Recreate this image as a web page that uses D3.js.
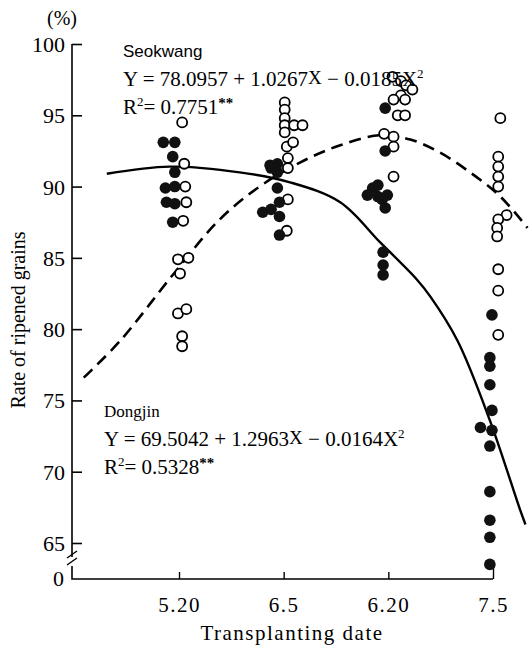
<!DOCTYPE html>
<html>
<head>
<meta charset="utf-8">
<script src="https://cdn.jsdelivr.net/npm/d3@7"></script>
<style>
	body { margin: 0; background: #fff; }
	svg text { font-family: "Liberation Serif", "DejaVu Serif", serif; fill: #000; }
</style>
</head>
<body>
<svg id="chart" width="529" height="647"></svg>
<script>
// transplanting dates, placed at index 0..3 on the x axis
const dateLabels = ["5.20", "6.5", "6.20", "7.5"];
const yTicks = [65, 70, 75, 80, 85, 90, 95, 100];

// Dongjin (filled dots): [date index, rate %]
const dongjin = [
	[-0.15, 93.1], [-0.04, 93.1], [-0.06, 92.1], [-0.04, 91.0], [-0.13, 89.9],
	[-0.04, 90.0], [-0.12, 88.9], [-0.04, 88.8], [-0.06, 87.5],
	[0.87, 91.5], [0.94, 91.6], [0.88, 91.3], [0.94, 91.0], [0.94, 89.9],
	[0.96, 88.9], [0.80, 88.2], [0.88, 88.4], [0.96, 87.9], [0.96, 86.6],
	[1.97, 95.5], [1.97, 92.5], [1.85, 89.9], [1.90, 90.1], [1.80, 89.4],
	[1.90, 89.3], [1.99, 89.4], [1.94, 89.1], [1.97, 88.5], [1.95, 85.4],
	[1.95, 84.5], [1.95, 83.8],
	[2.99, 81.0], [2.97, 78.0], [2.97, 77.4], [2.97, 76.1], [2.99, 74.3],
	[2.88, 73.1], [2.99, 72.9], [2.97, 71.8], [2.97, 68.6], [2.97, 66.6],
	[2.97, 65.4], [2.97, 63.5]
];

// Seokwang (open dots): [date index, rate %]
const seokwang = [
	[0.03, 94.5], [0.05, 91.6], [0.06, 90.0], [0.07, 88.9], [0.04, 87.6],
	[-0.01, 84.9], [0.09, 85.0], [0.01, 83.9], [-0.01, 81.1], [0.07, 81.4],
	[0.03, 79.5], [0.03, 78.8],
	[1.01, 95.9], [1.01, 95.4], [1.01, 94.8], [1.01, 94.3], [1.10, 94.3],
	[1.18, 94.3], [1.01, 93.8], [1.03, 92.8], [1.09, 93.1], [1.04, 92.0],
	[1.04, 91.3], [1.04, 89.1], [1.03, 86.9],
	[2.04, 97.7], [2.12, 97.4], [2.17, 97.1], [2.23, 96.8], [2.12, 96.4],
	[2.05, 96.1], [2.16, 96.1], [2.09, 95.0], [2.16, 95.0], [1.96, 93.7],
	[2.05, 93.5], [2.05, 92.8], [2.05, 90.7],
	[3.07, 94.8], [3.05, 92.1], [3.05, 91.4], [3.05, 90.7], [3.05, 90.0],
	[3.13, 88.0], [3.05, 87.7], [3.04, 87.1], [3.04, 86.5], [3.05, 84.2],
	[3.05, 82.7], [3.05, 79.6]
];

// fitted curves as drawn in the figure
const dongjinCurve = [
	[-0.69, 90.9], [-0.09, 91.4], [0.58, 91.0], [1.06, 90.3], [1.54, 88.9],
	[1.92, 86.1], [2.27, 83.5], [2.40, 82.3], [2.66, 79.2], [2.97, 73.6],
	[3.26, 67.3], [3.31, 66.3]
];
const seokwangCurve = [
	[-0.91, 76.6], [-0.56, 79.2], [-0.06, 83.8], [0.39, 87.7], [0.77, 90.0],
	[1.16, 91.7], [1.54, 92.9], [1.92, 93.6], [2.21, 93.3], [2.49, 92.4],
	[2.78, 91.0], [3.07, 89.3], [3.33, 87.1]
];

const svg = d3.select("#chart");

const axisX0 = 72, axisY0 = 579;

const x = d3.scaleLinear().domain([0, 3]).range([179, 493]);
const y = d3.scaleLinear().domain([65, 100]).range([543, 44]);

// y axis, with a break between 65 and 0
const yAxis = d3.axisLeft(y)
	.tickValues(yTicks)
	.tickSizeInner(-10)
	.tickSizeOuter(0)
	.tickPadding(7);

const gY = svg.append("g")
	.attr("transform", `translate(${axisX0},0)`)
	.call(yAxis);
gY.select(".domain").remove();
gY.selectAll(".tick line").attr("stroke", "#000").attr("stroke-width", 1.6);
gY.selectAll(".tick text").style("font-size", "22px").attr("dy", "0.34em");

const axisPath = d3.path();
axisPath.moveTo(axisX0, y(100));
axisPath.lineTo(axisX0, 557);
axisPath.moveTo(axisX0, 566);
axisPath.lineTo(axisX0, axisY0);
axisPath.lineTo(x(3), axisY0);
svg.append("path")
	.attr("d", axisPath.toString())
	.attr("fill", "none")
	.attr("stroke", "#000")
	.attr("stroke-width", 1.6);

// break marks
[0, 7].forEach(o => {
	svg.append("line")
		.attr("x1", axisX0 - 5).attr("y1", 558 + o)
		.attr("x2", axisX0 + 5).attr("y2", 551 + o)
		.attr("stroke", "#000").attr("stroke-width", 1.4);
});

svg.append("text")
	.attr("x", 64).attr("y", axisY0)
	.attr("dy", "0.34em")
	.attr("text-anchor", "end")
	.style("font-size", "22px")
	.text("0");

// x axis
const xAxis = d3.axisBottom(x)
	.tickValues([0, 1, 2, 3])
	.tickFormat(i => dateLabels[i])
	.tickSizeInner(-7)
	.tickSizeOuter(0)
	.tickPadding(18);

const gX = svg.append("g")
	.attr("transform", `translate(0,${axisY0})`)
	.call(xAxis);
gX.select(".domain").remove();
gX.selectAll(".tick line").attr("stroke", "#000").attr("stroke-width", 1.4);
gX.selectAll(".tick line").filter(i => i === 3).attr("y2", -12);
gX.selectAll(".tick text")
	.style("font-size", "21px")
	.style("letter-spacing", "1.5px")
	.attr("dy", "0.71em");

svg.append("text")
	.attr("x", 292).attr("y", 640)
	.attr("text-anchor", "middle")
	.style("font-size", "21px")
	.style("letter-spacing", "1.5px")
	.text("Transplanting date");

svg.append("text")
	.attr("transform", "translate(25,320) rotate(-90)")
	.attr("text-anchor", "middle")
	.style("font-size", "20px")
	.text("Rate of ripened grains");

svg.append("text")
	.attr("x", 47).attr("y", 25)
	.style("font-size", "20px")
	.text("(%)");

// curves
const line = d3.line()
	.x(d => x(d[0]))
	.y(d => y(d[1]))
	.curve(d3.curveCatmullRom);

svg.append("path")
	.datum(dongjinCurve)
	.attr("d", line)
	.attr("fill", "none")
	.attr("stroke", "#000")
	.attr("stroke-width", 2.4);

svg.append("path")
	.datum(seokwangCurve)
	.attr("d", line)
	.attr("fill", "none")
	.attr("stroke", "#000")
	.attr("stroke-width", 2.6)
	.attr("stroke-dasharray", "12,7");

// dots
svg.append("g").selectAll("circle")
	.data(seokwang)
	.join("circle")
	.attr("cx", d => x(d[0]))
	.attr("cy", d => y(d[1]))
	.attr("r", 5)
	.attr("fill", "#fff")
	.attr("stroke", "#000")
	.attr("stroke-width", 1.8);

svg.append("g").selectAll("circle")
	.data(dongjin)
	.join("circle")
	.attr("cx", d => x(d[0]))
	.attr("cy", d => y(d[1]))
	.attr("r", 5.8)
	.attr("fill", "#111");

// regression annotations
function equation(x0, y0, name, a, b, c, r2, nameFont) {
	const g = svg.append("g");
	g.append("text")
		.attr("x", x0).attr("y", y0)
		.style("font-size", "17px")
		.style("font-family", nameFont)
		.text(name);

	const eq = g.append("text")
		.attr("x", x0).attr("y", y0 + 29)
		.style("font-size", "21px");
	eq.append("tspan").text(`Y = ${a} + ${b}`);
	eq.append("tspan").attr("dy", -2).style("font-size", "19px").text("X");
	eq.append("tspan").attr("dy", 2).text(` − ${c}X`);
	eq.append("tspan").attr("dy", -8).style("font-size", "13px").text("2");

	const rr = g.append("text")
		.attr("x", x0).attr("y", y0 + 57)
		.style("font-size", "21px");
	rr.append("tspan").text("R");
	rr.append("tspan").attr("dy", -8).style("font-size", "13px").text("2");
	rr.append("tspan").attr("dy", 8).text(`= ${r2}`);
	rr.append("tspan").attr("dy", -6).style("font-size", "15px").style("font-weight", "bold").text("**");
}

equation(123, 57, "Seokwang", "78.0957", "1.0267", "0.0185", "0.7751", "Liberation Sans");
equation(104, 417, "Dongjin", "69.5042", "1.2963", "0.0164", "0.5328", "Liberation Serif");
</script>
</body>
</html>
